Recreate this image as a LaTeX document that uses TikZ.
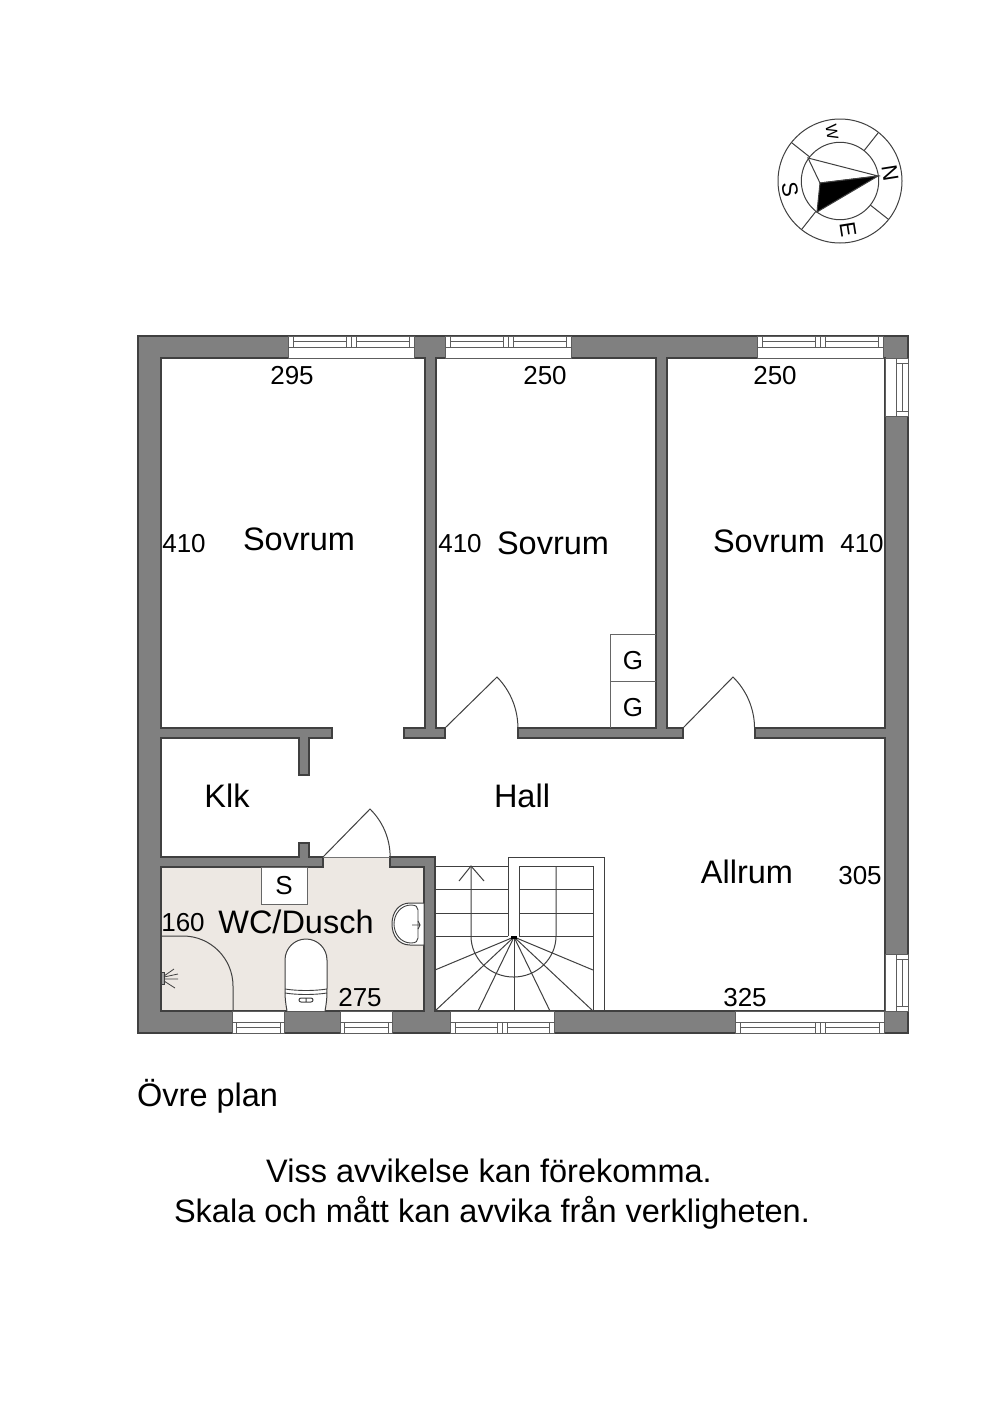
\documentclass[tikz,border=0pt]{standalone}
\usepackage{fontspec}
\setmainfont{Liberation Sans}
\definecolor{wallgray}{HTML}{808080}
\definecolor{wallline}{HTML}{404040}
\definecolor{wetroom}{HTML}{EDE8E3}
\tikzset{
  wall/.style={draw=wallline,fill=wallgray,line width=1.1pt},
  frameline/.style={draw=wallline!85,line width=1pt},
  fixture/.style={draw=black!75,line width=1pt},
  bigtext/.style={anchor=base,inner sep=0pt,font=\fontsize{32.5}{38}\selectfont},
  midtext/.style={anchor=base,inner sep=0pt,font=\fontsize{26}{30}\selectfont},
  compasstext/.style={inner sep=0pt,rotate=-81,font=\fontsize{22}{24}\selectfont},
}
% windows: #3 is the outer face of the wall, #4 the direction into the room
\newcommand{\hsash}[4]{\draw[frameline] (#1,#3) -- (#1,{#3+#4*11}) (#2,#3) -- (#2,{#3+#4*11})
  (#1,{#3+#4*5.5}) -- (#2,{#3+#4*5.5});}
\newcommand{\hframe}[4]{\draw[frameline,fill=white] (#1,#3) rectangle (#2,{#3+#4*22});
  \draw[frameline] (#1,{#3+#4*11}) -- (#2,{#3+#4*11});}
\newcommand{\hwindow}[5]{\hframe{#1}{#3}{#4}{#5}
  \hsash{#1+5}{#2-5}{#4}{#5}\hsash{#2+5}{#3-5}{#4}{#5}
  \draw[frameline] (#2,#4) -- (#2,{#4+#5*11});}
\newcommand{\hsingle}[4]{\hframe{#1}{#2}{#3}{#4}\hsash{#1+4}{#2-4}{#3}{#4}}
\newcommand{\vsingle}[2]{\draw[frameline,fill=white] (885,#1) rectangle (908,#2);
  \draw[frameline] (896,#1) -- (896,#2) (896,{#1+5}) -- (908,{#1+5}) (896,{#2-5}) -- (908,{#2-5})
    (902,{#1+5}) -- (902,{#2-5});}
\begin{document}
\begin{tikzpicture}[x=1pt,y=-1pt]
  \useasboundingbox[fill=white] (0,0) rectangle (992,1403);

  % wet room floor goes under the walls
  \fill[wetroom] (161,867) rectangle (424,1011) (323,857) rectangle (390,867);

  \path[wall,even odd rule] (138,336) rectangle (908,1033)
    (161,358) -- (425,358) -- (425,728) -- (404,728) -- (404,738) -- (445,738) -- (445,728)
    -- (436,728) -- (436,358) -- (656,358) -- (656,728) -- (518,728) -- (518,738) -- (683,738)
    -- (683,728) -- (667,728) -- (667,358) -- (885,358) -- (885,728) -- (755,728) -- (755,738)
    -- (885,738) -- (885,1011) -- (435,1011) -- (435,857) -- (390,857) -- (390,867) -- (424,867)
    -- (424,1011) -- (161,1011) -- (161,867) -- (323,867) -- (323,857) -- (309,857) -- (309,843)
    -- (299,843) -- (299,857) -- (161,857) -- (161,738) -- (299,738) -- (299,775) -- (309,775)
    -- (309,738) -- (332,738) -- (332,728) -- (161,728) -- cycle;

  \hwindow{288}{351}{414}{336}{1}
  \hwindow{445}{508}{571}{336}{1}
  \hwindow{757}{820}{883}{336}{1}
  \hwindow{450}{502}{554}{1033}{-1}
  \hwindow{735}{820}{884}{1033}{-1}
  \hsingle{232}{284}{1033}{-1}
  \hsingle{340}{392}{1033}{-1}
  \vsingle{358}{416}
  \vsingle{954}{1011}

  % doors
  \draw[fixture] (445,728) -- (497,677) arc[start angle=44.5,end angle=0,radius=73pt];
  \draw[fixture] (683,728) -- (733,677) arc[start angle=45.5,end angle=0,radius=72pt];
  \draw[fixture] (323,857) -- (370,809) arc[start angle=45.6,end angle=0,radius=67pt];
  \draw[draw=black!55,line width=.7pt] (323,857) -- (390,857);

  % gas meters and wet room
  \draw[fixture,draw=black!60] (656,634) -- (610,634) -- (610,728) (610,681) -- (656,681);
  \draw[fixture,draw=black!60,fill=white] (261,867) rectangle (307,904);
  \draw[fixture] (161,936) -- (183,936) arc[start angle=90,end angle=0,radius=50pt] -- (233,1011);
  \draw[fixture,fill=black!35,line width=.7pt] (161,972) rectangle (164,984);
  \draw[fixture,line width=.8pt] (164,976) -- (174,969) (164,977) -- (178,974)
    (164,979) -- (178,979) (164,981) -- (175,988);
  \draw[fixture,fill=white] (287,1011) .. controls (285,1000) and (285,995) .. (285,988) -- (285,960)
    arc[start angle=180,end angle=0,radius=21pt] -- (327,988)
    .. controls (327,995) and (327,1000) .. (325,1011);
  \draw[fixture,line width=.9pt] (285,989) .. controls (298,991) and (314,991) .. (327,989)
    (285,993) .. controls (298,995) and (314,995) .. (327,993);
  \draw[fixture,rounded corners=2pt] (299,998) rectangle (313,1002) (306,998) -- (306,1002);
  % sink
  \draw[fixture,fill=white] (424,903) -- (410,903) .. controls (399,903) and (392,912) .. (392,924)
    .. controls (392,936) and (399,945) .. (410,945) -- (424,945) -- cycle;
  \draw[fixture,line width=.9pt] (411,905) .. controls (401,905) and (394,914) .. (394,924)
    .. controls (394,934) and (401,943) .. (411,943) .. controls (416,943) and (418,941) .. (418,938)
    -- (418,910) .. controls (418,907) and (416,905) .. (411,905);
  \draw[fixture,line width=.9pt] (412,925) -- (420,925) (418,921) -- (420,925) -- (418,929);

  % stairs
  \foreach \yt in {866,889,913,936}
    \draw[fixture] (435,\yt) -- (508,\yt) (519,\yt) -- (593,\yt);
  \draw[fixture] (508,936) -- (508,857) -- (604,857) -- (604,1011);
  \draw[fixture] (519,936) -- (519,866) (593,866) -- (593,1011);
  \draw[fixture] (556,866) -- (556,936) arc[start angle=0,end angle=-180,x radius=42.5pt,y radius=41pt]
    -- (471,866);
  \draw[fixture] (459,881) -- (471,866) -- (484,881);
  \coordinate (stair_c) at (514,937);
  \foreach \xt/\yt in {435/970,435/1011,478/1011,514/1011,550/1011,593/1011,593/970}
    \draw[fixture] (stair_c) -- (\xt,\yt);
  \fill[black] (511,936) rectangle (517,939);

  % compass
  \coordinate (compass_c) at (840,181);
  \draw[fixture] (compass_c) circle[radius=62pt] (compass_c) circle[radius=38.7pt];
  \foreach \ang in {51.6,141.6,231.6,321.6}
    \draw[fixture] ([shift={(\ang:38.7pt)}]compass_c) -- ([shift={(\ang:62pt)}]compass_c);
  \coordinate (needle_n) at (878,176);
  \coordinate (needle_w) at (808,158);
  \coordinate (needle_s) at (817,212);
  \coordinate (needle_m) at (820,183);
  \draw[fixture,fill=white] (needle_n) -- (needle_w) -- (needle_m) -- cycle;
  \draw[fixture,fill=black] (needle_n) -- (needle_m) -- (needle_s) -- cycle;
  \node[compasstext] (comp_n) at (890,173) {N};
  \node[compasstext] (comp_e) at (848,230) {E};
  \node[compasstext] (comp_s) at (790,190) {S};
  \node[compasstext,font=\fontsize{16}{18}\selectfont] (comp_w) at (832,132) {W};

  % labels
  \node[midtext] (len_a) at (292,384.5) {295};
  \node[midtext] (len_b) at (545,384.5) {250};
  \node[midtext] (len_c) at (775,384.5) {250};
  \node[midtext] (wid_a) at (184,552.5) {410};
  \node[midtext] (wid_b) at (460,552.5) {410};
  \node[midtext] (wid_c) at (862,552.5) {410};
  \node[midtext] (wid_d) at (860,884.5) {305};
  \node[midtext] (len_d) at (745,1006.5) {325};
  \node[midtext] (len_e) at (360,1006.5) {275};
  \node[midtext] (wid_e) at (183,931.5) {160};
  \node[midtext] (gas_a) at (633,669.5) {G};
  \node[midtext] (gas_b) at (633,716.5) {G};
  \node[midtext] (shaft) at (284,894.5) {S};
  \node[bigtext] (sov_a) at (299,550) {Sovrum};
  \node[bigtext] (sov_b) at (553,554) {Sovrum};
  \node[bigtext] (sov_c) at (769,552) {Sovrum};
  \node[bigtext] (klk) at (227,807) {Klk};
  \node[bigtext] (hall) at (522,807) {Hall};
  \node[bigtext] (allrum) at (747,883) {Allrum};
  \node[bigtext] (wc) at (296,933) {WC/Dusch};
  \node[bigtext,anchor=base west] (plan) at (137,1106) {Övre plan};
  \node[bigtext] (note_a) at (489,1182) {Viss avvikelse kan förekomma.};
  \node[bigtext] (note_b) at (492,1222) {Skala och mått kan avvika från verkligheten.};
\end{tikzpicture}
\end{document}
